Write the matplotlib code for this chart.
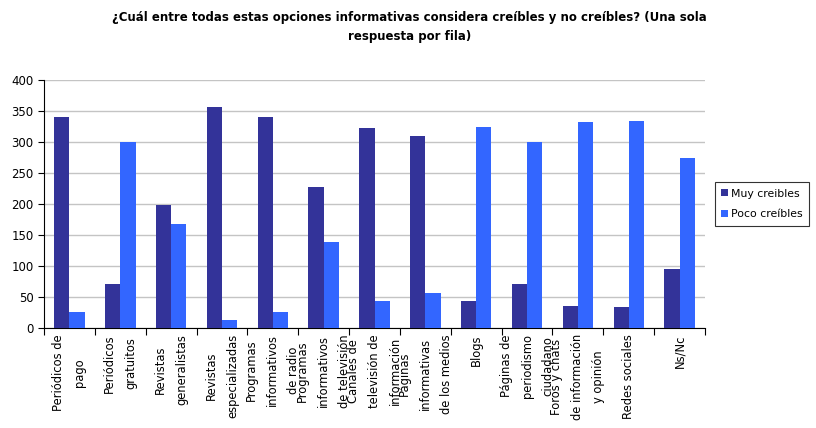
import numpy as np
import matplotlib
matplotlib.use("Agg")
import matplotlib.pyplot as plt

# --- data ---
categories = [
    "Periódicos de\npago",
    "Periódicos\ngratuitos",
    "Revistas\ngeneralistas",
    "Revistas\nespecializadas",
    "Programas\ninformativos\nde radio",
    "Programas\ninformativos\nde televisión",
    "Canales de\ntelevisión de\ninformación",
    "Páginas\ninformativas\nde los medios",
    "Blogs",
    "Páginas de\nperiodismo\nciudadano",
    "Foros y chats\nde información\ny opinión",
    "Redes sociales",
    "Ns/Nc",
]
muy_creibles = [341, 70, 198, 356, 341, 228, 323, 310, 44, 70, 35, 33, 95]
poco_creibles = [26, 300, 167, 12, 26, 139, 43, 57, 325, 300, 332, 334, 274]

title = ("¿Cuál entre todas estas opciones informativas considera creíbles y no creíbles? (Una sola\n"
         "respuesta por fila)")

# --- plotting ---
fig = plt.figure(figsize=(8.16, 4.28), dpi=100)
ax = fig.add_axes([0.054, 0.234, 0.81, 0.579])

x = np.arange(len(categories))
w = 0.3
ax.bar(x - w / 2, muy_creibles, w, color="#333399", label="Muy creibles", zorder=3)
ax.bar(x + w / 2, poco_creibles, w, color="#3366FF", label="Poco creíbles", zorder=3)

ax.set_xlim(-0.5, len(categories) - 0.5)
ax.set_ylim(0, 400)
ax.set_yticks(range(0, 401, 50))
ax.yaxis.grid(True, color="#c4c4c4", linewidth=1, zorder=0)
ax.tick_params(axis="y", labelsize=8.5, length=4, direction="out")

# ticks at category boundaries, labels at centers
ax.set_xticks(np.arange(-0.5, len(categories)), minor=False)
ax.set_xticklabels([])
ax.tick_params(axis="x", length=5, direction="out")
for i, lab in enumerate(categories):
    ax.text(i, -10, lab, rotation=90, ha="center", va="top", fontsize=8.3,
            multialignment="center", linespacing=1.8)

for s in ["top", "right"]:
    ax.spines[s].set_visible(False)

fig.text(0.502, 0.975, title, ha="center", va="top", fontsize=8.5,
         fontweight="bold", linespacing=1.6)

leg = ax.legend(loc="center left", bbox_to_anchor=(1.01, 0.5), fontsize=7.8,
                frameon=True, fancybox=False, edgecolor="black",
                handlelength=0.6, handleheight=0.6, handletextpad=0.3,
                borderpad=0.6, borderaxespad=0.3, labelspacing=1.0)
leg.get_frame().set_linewidth(0.8)

fig.savefig("out.png", dpi=100)
